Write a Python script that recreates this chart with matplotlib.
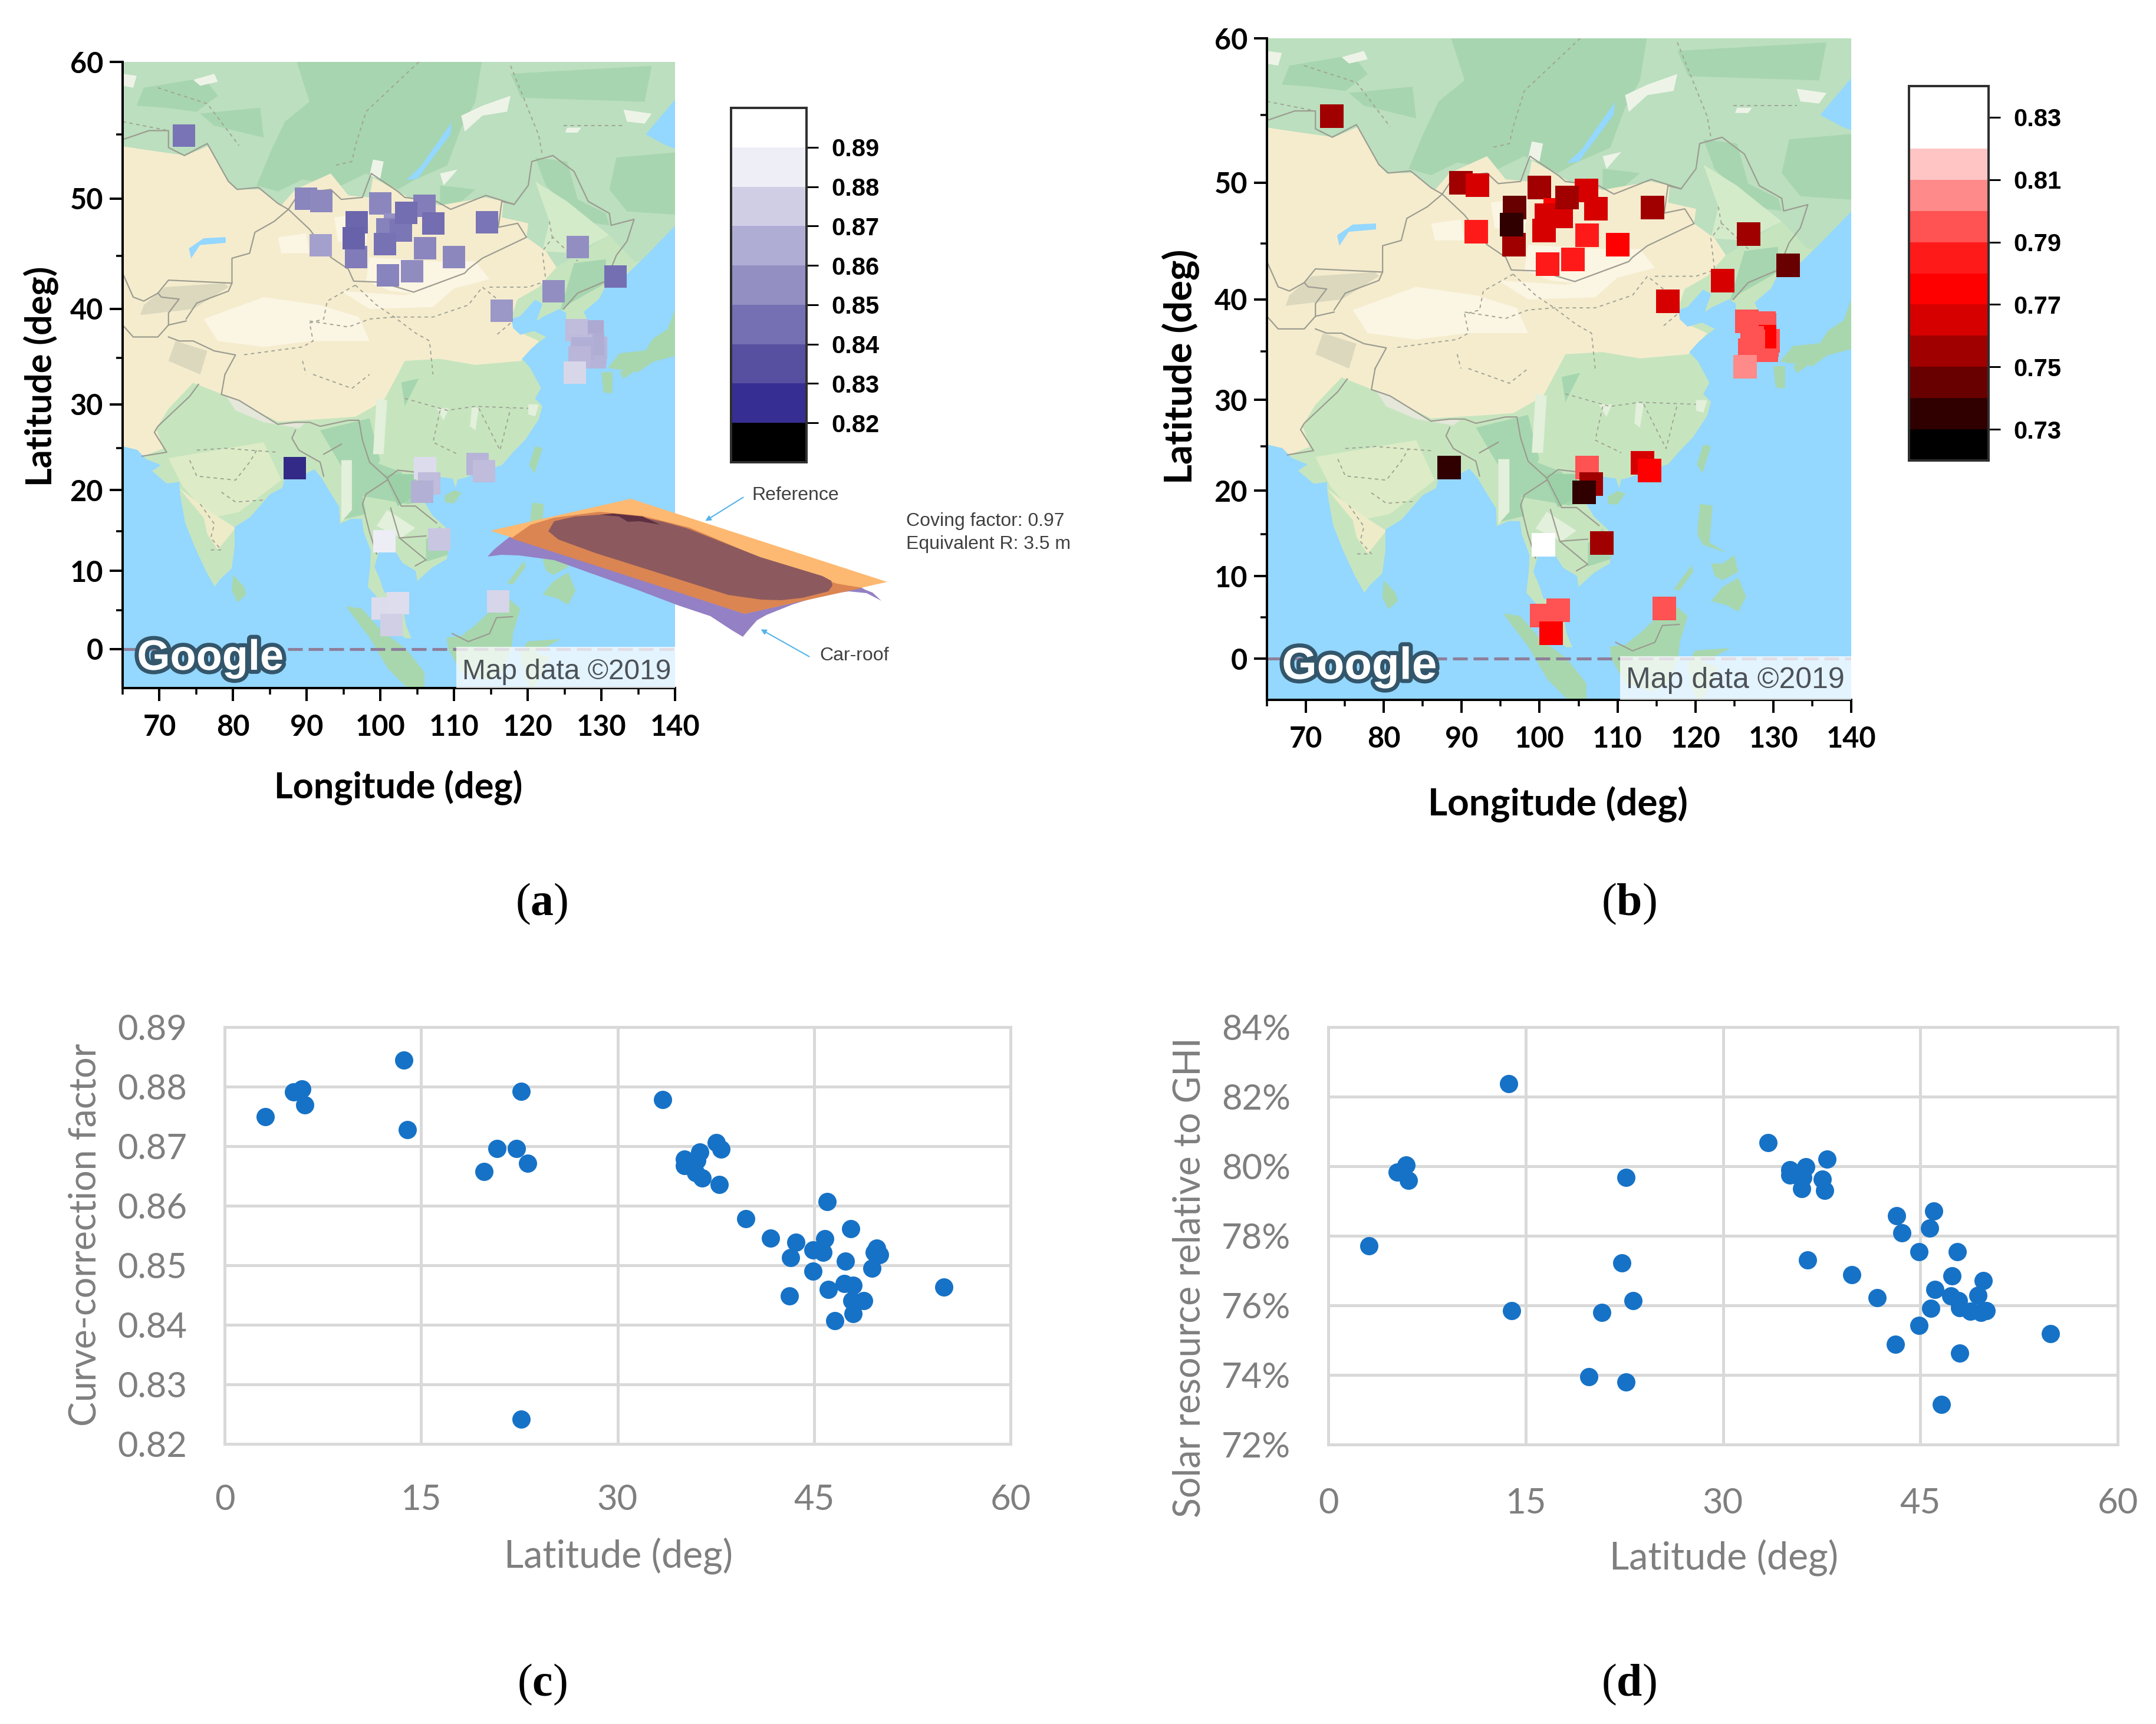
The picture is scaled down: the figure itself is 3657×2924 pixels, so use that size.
import numpy as np
import matplotlib
matplotlib.use("Agg")
import matplotlib.pyplot as plt
import matplotlib.patheffects as pe
from matplotlib.colors import ListedColormap, BoundaryNorm, LinearSegmentedColormap
from matplotlib.cm import ScalarMappable

W, H = 3657, 2924
DPI = 100
PT = 72 / DPI  # pixels to points

plt.rcParams['mathtext.fontset'] = 'custom'
plt.rcParams['mathtext.bf'] = 'Liberation Serif:bold'
plt.rcParams['mathtext.rm'] = 'Liberation Serif'

# stations, in drawing order
station_lon = [73.3, 89.9, 92.0, 100.0, 102.0, 100.9, 102.8, 100.6, 106.0, 103.5, 107.2, 114.5, 106.1, 91.9, 110.0,
               96.8, 96.7, 96.4, 126.8, 104.3, 101.0, 131.9, 123.5, 116.5,
               128.9, 128.8, 129.3, 129.2, 129.1, 128.9, 126.6, 127.3, 127.4, 127.0, 126.4,
               106.1, 106.6, 105.7, 113.2, 114.1, 88.4, 100.5, 108.0, 100.3, 102.4, 101.5, 116.0]
station_lat = [54.9, 50.0, 49.8, 49.6, 47.8, 47.4, 47.3, 46.1, 49.4, 48.8, 47.9, 48.0, 45.7, 46.0, 44.9,
               48.0, 44.9, 46.6, 45.8, 43.6, 43.2, 43.1, 41.7, 39.8,
               37.55, 37.75, 36.05, 35.6, 35.1, 36.45, 37.9, 36.3, 35.98, 35.1, 33.45,
               22.65, 20.8, 19.8, 23.15, 22.3, 22.65, 13.7, 13.95, 5.25, 5.9, 3.1, 6.1]
station_cf = [.8463, .8518, .8529, .8522, .8561, .8507, .8469, .8459, .8495, .8441, .8441, .8466, .8522, .8607, .8526,
              .8419, .8490, .8407, .8545, .8539, .8513, .8449, .8546, .8578,
              .8706, .8636, .8676, .8673, .8667, .8647, .8695, .8690, .8655, .8678, .8778,
              .8792, .8696, .8657, .8671, .8696, .8242, .8845, .8728, .8791, .8796, .8750, .8769]
station_ghi = [75.19, 75.84, 76.72, 75.80, 77.55, 76.85, 76.27, 76.45, 76.29, 75.83, 76.13, 75.93, 78.22, 78.72, 77.55,
               74.63, 75.43, 73.16, 75.91, 78.09, 78.58, 74.88, 76.22, 76.88,
               79.63, 79.31, 79.67, 79.74, 79.74, 77.30, 80.20, 79.98, 79.36, 79.90, 80.67,
               79.67, 75.80, 73.95, 76.13, 77.22, 73.79, 82.38, 75.84, 79.83, 80.03, 77.71, 79.60]

lon_ticks = [70, 80, 90, 100, 110, 120, 130, 140]
lon_minor = [65, 75, 85, 95, 105, 115, 125, 135]
lat_ticks = [0, 10, 20, 30, 40, 50, 60]
lat_minor = [5, 15, 25, 35, 45, 55]

# colour bars
bins_a = [.81, .82, .83, .84, .85, .86, .87, .88, .89, .90]
colors_a = ['#000000', '#372E93', '#574FA0', '#7570B3', '#938FC2', '#B0ADD5', '#D0CEE5', '#EEEEF7', '#FFFFFF']
ticks_a = [.82, .83, .84, .85, .86, .87, .88, .89]
bins_b = [.72, .73, .74, .75, .76, .77, .78, .79, .80, .81, .82, .84]
marker_bins_b = [.72, .73, .74, .75, .76, .77, .78, .79, .803, .81, .82, .84]
colors_b = ['#000000', '#300000', '#680000', '#A00000', '#D60000', '#FF0000', '#FF1A1A', '#FF5252', '#FF8A8A', '#FFC4C4', '#FFFFFF']
ticks_b = [.73, .75, .77, .79, .81, .83]

# coastline, lon/lat
mainland = [(60, 72), (145, 72), (145, 57.5), (140, 57.5), (136, 55), (138.7, 54.2), (141, 53.7), (141, 48.5),
            (140, 47.7), (136, 45), (133, 43), (132, 43.2), (130.7, 42.4), (129.7, 41), (127.6, 39.7), (128.4, 38.4),
            (129.4, 37), (129.4, 35.5), (128, 34.8), (126.5, 34.4), (126.5, 36), (126.7, 37), (125.2, 37.9), (125.2, 39.6),
            (124.3, 40), (122, 39.2), (121.2, 38.8), (122, 40.5), (121, 40.9), (119, 39.3), (117.8, 39), (118, 38.1),
            (119, 37.4), (120.8, 37.8), (122.5, 37.2), (120.5, 36), (119.2, 34.9), (120.3, 34), (121.8, 31.8), (121, 30.6),
            (122, 29.8), (121.5, 28.3), (119.7, 26), (118, 24.5), (116.5, 23), (114, 22.3), (111.5, 21.5), (110.5, 21.3),
            (110.2, 20.3), (109.8, 21.4), (108, 21.6), (106.7, 20.7), (105.7, 19), (107, 17), (108.8, 15.5), (109.3, 13),
            (109, 11.5), (107, 10.4), (105, 8.7), (104.8, 10), (103, 11), (102, 12.5), (100.9, 12.7), (100.5, 13.5),
            (99.9, 12.8), (99.2, 10.5), (99.9, 9), (100.5, 7.3), (101.7, 6.8), (103, 5.5), (103.5, 3), (104.2, 1.4),
            (103.4, 1.4), (101.3, 2.9), (100.4, 5), (99.7, 6.5), (98.3, 8), (98.6, 10.5), (98.7, 12.5), (97.7, 15),
            (97.5, 16.5), (96, 16.5), (94.5, 15.9), (94.4, 18), (93, 20), (92, 21.5), (91, 22.5), (89.5, 21.8), (87, 21.5),
            (86.7, 20.3), (85, 19.5), (82.3, 16.7), (80.2, 15.5), (80.2, 13), (79.8, 10.3), (78.2, 8.9), (77.5, 8), (76.3, 10),
            (74.8, 13), (73.5, 16), (72.8, 19.5), (72.7, 21), (71, 20.8), (69, 22.3), (70.2, 23), (68.2, 23.7), (67, 24.8),
            (65, 25.2), (60, 25)]
islands = [
    [(130.9, 34), (132.5, 35.5), (136, 35.8), (137, 37), (139, 38), (140, 40), (142, 40), (142, 35), (140, 35.2), (137, 34.6), (135, 33.5), (132, 33.8)],
    [(130, 33.5), (131.5, 33.5), (131.5, 31.2), (130.3, 31.3)],
    [(132.5, 33.5), (134.5, 34.2), (134.2, 33.4), (133, 32.8)],
    [(120.2, 23), (121, 25.2), (122, 25), (120.9, 22)],
    [(108.7, 19.3), (110, 20), (111, 19.7), (110, 18.4), (108.8, 18.5)],
    [(80, 9.5), (81.5, 8), (81.8, 7), (80.6, 6), (79.8, 7.5)],
    [(95.3, 5.5), (97.5, 5.2), (100, 2.5), (103.5, 0), (106, -3), (106, -5.9), (104.5, -5.8), (101, -2.5), (98.5, 1.5)],
    [(109, 1.5), (111, 1.7), (113, 3.2), (115, 5), (116.7, 7), (119, 5.2), (118, 2), (117.8, 0), (116.5, -3), (114.5, -4), (111, -3), (109.2, 0)],
    [(120.3, 16), (120.6, 18.5), (122.2, 18.3), (122, 16), (121.8, 14), (124, 12.8), (121, 13.7), (120.3, 14.8)],
    [(122, 7), (123.5, 8.7), (125.5, 9.8), (126.5, 7.5), (125.5, 5.7), (124, 6.5)],
    [(122, 11.5), (123.5, 11.5), (125, 12.5), (125.5, 10.5), (123.5, 9.5), (122.5, 10)],
    [(117.2, 8.4), (119.5, 11.3), (119.7, 10.5), (118, 8.3)],
    [(119.5, -3.5), (119, -0.5), (120, 1), (124.5, 1.3), (121, -0.5), (123, -1), (121.5, -4), (120.5, -5.5)],
]

# land colours, as pixel positions in the panel (b) crop:
# "top" shapes start at the top of the map, "low" shapes at picture row 625
top_north = [(-50, -50), (1700, -50), (1700, 1000), (1450, 1000), (1380, 870), (1230, 1030), (1200, 950), (1145, 880), (1150, 810), (1075, 780), (1080, 700), (1030, 680), (900, 720), (810, 680),
             (780, 650), (710, 580), (700, 680), (640, 670), (590, 560), (490, 640), (450, 720), (390, 640), (320, 640), (300, 600), (245, 420), (180, 470), (60, 440), (-50, 410)]
top_forest = [[(490, -20), (1020, -20), (1000, 200), (960, 330), (920, 520), (830, 590), (780, 640), (690, 560), (620, 620), (510, 590), (440, 650), (380, 620), (420, 450), (460, 300), (530, 200)],
              [(60, 130), (230, 80), (270, 170), (210, 250), (120, 230), (40, 220)], [(220, 260), (390, 230), (400, 380), (260, 320)],
              [(1100, 60), (1500, 20), (1480, 200), (1300, 190), (1130, 180)], [(1170, 480), (1260, 500), (1290, 690), (1370, 760), (1380, 820), (1300, 800), (1200, 620)],
              [(1400, 480), (1600, 450), (1600, 770), (1430, 750), (1380, 640)], [(1280, 1010), (1370, 990), (1370, 1110), (1270, 1210), (1240, 1250), (1260, 1130)],
              [(900, 620), (1000, 640), (960, 700), (900, 720)]]
top_plain = [(1170, 600), (1260, 700), (1330, 800), (1380, 870), (1280, 960), (1190, 950), (1210, 800)]
top_snow = [[(960, 270), (1020, 220), (1100, 170), (1090, 250), (1020, 270), (970, 350)], [(1420, 240), (1500, 260), (1480, 310), (1430, 300)], [(0, 60), (40, 70), (30, 130), (0, 120)],
            [(200, 90), (260, 60), (270, 100), (220, 120)], [(1260, 330), (1300, 330), (1290, 355), (1255, 355)], [(900, 560), (950, 540), (910, 620)], [(710, 490), (740, 500), (730, 590), (700, 570)]]
top_cream = [(-50, 410), (60, 440), (180, 470), (245, 420), (300, 600), (320, 640), (390, 640), (450, 720), (490, 640), (590, 560), (640, 670), (700, 680), (710, 580), (780, 650), (810, 680),
             (900, 720), (1030, 680), (1080, 700), (1075, 780), (1150, 810), (1145, 880), (1200, 950), (1230, 1030), (1180, 1130), (1120, 1190), (1100, 1290), (1130, 1360), (1180, 1400), (1130, 1500),
             (1000, 1520), (900, 1490), (800, 1500), (780, 1568), (740, 1700), (660, 1780), (580, 1790), (440, 1805), (300, 1680), (200, 1610), (130, 1740), (95, 1840), (115, 1940), (55, 1980), (0, 1925), (-50, 1925)]
top_pale = [[(230, 1290), (400, 1180), (560, 1220), (670, 1280), (700, 1400), (540, 1400), (400, 1430), (270, 1400)],
            [(700, 980), (880, 1000), (1000, 1000), (1040, 1090), (870, 1170), (760, 1150), (690, 1100)],
            [(440, 880), (520, 860), (530, 960), (450, 960)], [(600, 780), (700, 760), (690, 930), (610, 900)], [(620, 1150), (800, 1170), (950, 1120), (880, 1230), (700, 1240)]]
top_tan = [[(50, 1270), (200, 1240), (300, 1130), (290, 1110), (120, 1130), (60, 1220)], [(150, 1400), (240, 1450), (220, 1568), (130, 1500)]]
low_india = [(130, 420), (400, 340), (450, 530), (330, 690), (250, 720), (170, 560)]
low_south_india = [(160, 570), (230, 720), (240, 800), (270, 880), (320, 770), (250, 690)]
low_forest = [[(560, 280), (700, 220), (730, 430), (680, 600), (690, 700), (620, 730), (620, 460)], [(700, 430), (790, 490), (840, 640), (810, 650), (680, 610)], [(790, 40), (840, 20), (800, 160)],
              [(860, 830), (900, 760), (930, 900), (860, 940)]]
low_laos = [(740, 500), (830, 500), (840, 600), (780, 660)]
low_pale = [[(720, 120), (750, 130), (740, 400), (710, 400)], [(620, 430), (650, 430), (650, 680), (620, 740)], [(750, 680), (830, 770), (790, 820), (720, 760)],
            [(990, 160), (1010, 170), (1000, 280), (985, 260)], [(1150, 150), (1180, 150), (1170, 210), (1150, 200)], [(890, 170), (925, 170), (910, 230)]]
low_strip = [(290, 100), (330, 130), (440, 250), (520, 240), (500, 270), (400, 240), (320, 180)]

top_borders = [[(-50, 420), (75, 345), (130, 345), (130, 430), (175, 470), (240, 410), (300, 600), (325, 640), (385, 630), (440, 710), (470, 740)],
               [(470, 740), (500, 660), (590, 640), (620, 690), (680, 680), (705, 560), (780, 650), (800, 680), (890, 700), (930, 740), (1030, 670), (1110, 715), (1075, 700), (1065, 830), (1120, 810), (1145, 880),
                (1020, 985), (980, 1040), (970, 1060), (825, 1155), (730, 1105), (655, 1100), (640, 1040), (590, 980), (530, 840), (470, 740)],
               [(1110, 715), (1150, 620), (1160, 500), (1220, 470), (1280, 550), (1320, 700), (1380, 760), (1385, 820), (1450, 790), (1430, 900), (1400, 970), (1370, 1100), (1290, 1160), (1250, 1240)],
               [(470, 740), (430, 800), (375, 855), (360, 960), (310, 985), (310, 1110), (130, 1095), (100, 1160), (110, 1180), (160, 1190), (130, 1260), (130, 1320), (180, 1300)],
               [(0, 1060), (30, 1180), (60, 1200), (100, 1160)], [(310, 1110), (300, 1150), (210, 1210), (180, 1290)], [(0, 1320), (30, 1380), (100, 1380), (130, 1320)],
               [(130, 1380), (160, 1400), (200, 1400), (260, 1450), (320, 1470), (290, 1568)]]
low_borders = [[(290, 0), (280, 100), (330, 130), (440, 250), (490, 240), (530, 240), (560, 260), (640, 230), (670, 230), (680, 330), (700, 440), (750, 520), (780, 480), (830, 490), (890, 530)],
               [(215, 50), (190, 110), (100, 260), (90, 290), (125, 390), (55, 410)], [(490, 280), (480, 320), (500, 380), (560, 440), (570, 510)], [(570, 400), (620, 350)],
               [(750, 530), (690, 600), (680, 650), (700, 790), (720, 900)], [(750, 520), (790, 660), (830, 660), (890, 745)], [(760, 670), (785, 820), (860, 930), (830, 960)], [(785, 820), (860, 810)],
               [(935, 1300), (980, 1340), (1040, 1300), (1060, 1220), (1105, 1215)]]
top_dashes = [[(840, 0), (780, 100), (690, 250), (660, 420), (650, 500), (600, 520)], [(1100, 20), (1180, 370), (1190, 470)], [(100, 130), (240, 210), (330, 420)], [(0, 300), (130, 345)],
              [(660, 1120), (580, 1200), (570, 1290), (530, 1310), (540, 1400), (510, 1430), (340, 1470)], [(660, 1120), (720, 1220), (770, 1280), (830, 1360), (870, 1400), (880, 1568)],
              [(530, 1300), (640, 1330), (700, 1290), (770, 1280), (880, 1280), (980, 1220), (1020, 1130), (1090, 1230), (1100, 1310), (1060, 1370)],
              [(1040, 1130), (1150, 1130), (1200, 1100), (1190, 950), (1220, 880), (1290, 1000)], [(1210, 800), (1220, 900)], [(1250, 320), (1420, 320)], [(510, 1500), (520, 1568)]]
low_dashes = [[(800, 120), (920, 180), (1000, 160), (1150, 170)], [(900, 180), (880, 340), (950, 400)], [(1010, 170), (1070, 380), (1100, 170)], [(210, 380), (290, 370), (360, 380), (440, 390)],
              [(190, 430), (210, 510), (320, 530), (360, 440), (380, 380)], [(280, 590), (320, 640), (400, 630)], [(220, 650), (260, 750), (250, 820), (280, 880), (240, 880)], [(540, 0), (650, 70), (700, 0)]]
lakes = [[(103.5, 51.5), (105, 51.6), (109.5, 55), (109.7, 55.9), (108.5, 55), (105.5, 52.6)],
         [(74, 45.7), (76, 46.6), (79, 46.7), (79, 46.2), (75.5, 46), (74.3, 44.8)]]
equator_lon = [65, 140]
equator_lat = [0, 0]

# roof sketch in panel (a), picture pixels
roof_purple = [(827, 944), (838, 932), (855, 918), (868, 908), (1400, 960), (1467, 1000), (1480, 1005), (1495, 1019), (1470, 1006), (1440, 1003),
               (1400, 1008), (1345, 1025), (1300, 1043), (1284, 1052), (1270, 1068), (1260, 1080), (1240, 1068), (1205, 1045), (1151, 1027),
               (1080, 1000), (1010, 975), (940, 950), (880, 942), (850, 941)]
roof_orange = [(832, 900), (1070, 846), (1505, 987), (1263, 1041)]
roof_overlap = [(867, 913), (900, 890), (940, 878), (1017, 868), (1090, 875), (1170, 895), (1300, 950), (1420, 990), (1463, 997), (1263, 1041)]
roof_brown = [(930, 901), (940, 884), (975, 876), (1017, 873), (1081, 876), (1125, 885), (1165, 896), (1290, 945), (1395, 977), (1410, 985), (1412, 993),
              (1405, 1003), (1361, 1014), (1325, 1018), (1291, 1017), (1235, 1009), (1010, 938), (947, 915)]
roof_dark = [(1017, 873), (1040, 871), (1090, 876), (1120, 890), (1085, 884), (1065, 885), (1050, 876)]


def merc(lat):
    lat = np.clip(lat, -85, 85)
    return np.degrees(np.log(np.tan(np.radians(45 + lat / 2))))


def merc_inv(y):
    return 2 * np.degrees(np.arctan(np.exp(np.radians(y)))) - 90


def crop_lonlat(pts, row0):
    # crop position of the reference panel (b) to lon/lat
    pts = np.array(pts, dtype=float)
    lon = 65 + pts[:, 0] / 1.582 / 13.2
    lat = merc_inv((1117 - (row0 + pts[:, 1] / 2.8)) / 13.94)
    return np.column_stack([lon, lat])


def top(pts):
    return crop_lonlat(pts, 65)


def low(pts):
    return crop_lonlat(pts, 625)


def axes_px(left, top_px, right, bottom):
    return fig.add_axes([left / W, 1 - bottom / H, (right - left) / W, (bottom - top_px) / H])


def poly(ax, pts, color, z=1, clip=None):
    pts = np.array(pts)
    art = ax.fill(pts[:, 0], pts[:, 1], color=color, lw=0, zorder=z)[0]
    if clip is not None:
        art.set_clip_path(clip)
    return art


def draw_map(ax, c_values, cmap, norm, side):
    ax.set_facecolor('#94D7FF')
    land = poly(ax, mainland, '#C6E5BF')
    for p in islands:
        poly(ax, p, '#A8D7AE')
    poly(ax, top(top_north), '#BBDFBF', 1.1, land)
    for p in top_forest:
        poly(ax, top(p), '#A7D5AF', 1.2, land)
    poly(ax, top(top_plain), '#D4EBC9', 1.25, land)
    for p in top_snow:
        poly(ax, top(p), '#EEF3E8', 1.3, land)
    poly(ax, top(top_cream), '#F5ECCE', 1.5, land)
    for p in top_pale:
        poly(ax, top(p), '#FBF5E3', 1.6, land)
    for p in top_tan:
        poly(ax, top(p), '#DCD8BE', 1.7, land)
    poly(ax, low(low_india), '#DDECC6', 1.6, land)
    poly(ax, low(low_south_india), '#EEEBC9', 1.65, land)
    for p in low_forest:
        poly(ax, low(p), '#A6D6AF', 1.7, land)
    poly(ax, low(low_laos), '#9CD1A8', 1.75, land)
    for p in low_pale:
        poly(ax, low(p), '#E3F0DB', 1.75, land)
    poly(ax, low(low_strip), '#E4E7DA', 1.8, land)
    for p in lakes:
        poly(ax, p, '#94D7FF', 1.9)
    for p in [top(q) for q in top_borders] + [low(q) for q in low_borders]:
        ax.plot(p[:, 0], p[:, 1], color='#9C9C90', lw=1.6, zorder=2)
    for p in [top(q) for q in top_dashes] + [low(q) for q in low_dashes]:
        ax.plot(p[:, 0], p[:, 1], color='#A2A496', lw=1.4, ls=(0, (3, 3)), zorder=2)

    ax.plot(equator_lon, equator_lat, color='#8E7F9A', lw=5 * PT, ls=(0, (5, 2)), zorder=2.5)
    ax.axhspan(-5, 0.32, xmin=(110.3 - 65) / 75, color='white', alpha=0.75, lw=0, zorder=3)
    ax.scatter(station_lon, station_lat, c=c_values, cmap=cmap, norm=norm, marker='s', s=(side * PT) ** 2, linewidths=0, zorder=4)

    ax.set_xlim(65, 140)
    ax.set_yscale('function', functions=(merc, merc_inv))
    ax.set_ylim(-5, 60)
    ax.set_xticks(lon_ticks)
    ax.set_xticks(lon_minor, minor=True)
    ax.set_yticks(lat_ticks)
    ax.set_yticks(lat_minor, minor=True)
    ax.set_yticklabels([str(v) for v in lat_ticks])
    ax.tick_params(which='major', length=22 * PT, width=4 * PT, labelsize=35)
    ax.tick_params(which='minor', length=11 * PT, width=3.5 * PT, labelleft=False, labelbottom=False)
    ax.tick_params(axis='x', which='major', pad=22 * PT)
    ax.tick_params(axis='y', which='major', pad=11 * PT)
    for t in ax.get_xticklabels() + ax.get_yticklabels():
        t.set_family('Lato')
        t.set_fontweight('bold')
    ax.spines['top'].set_visible(False)
    ax.spines['right'].set_visible(False)
    ax.spines['left'].set_linewidth(4 * PT)
    ax.spines['bottom'].set_linewidth(4 * PT)


def draw_colorbar(left, top_px, right, bottom, bins, colors, ticks):
    cax = axes_px(left, top_px, right, bottom)
    sm = ScalarMappable(norm=BoundaryNorm(bins, len(colors)), cmap=ListedColormap(colors))
    cb = fig.colorbar(sm, cax=cax, ticks=ticks, spacing='proportional')
    cb.ax.set_yticklabels(['%.2f' % v for v in ticks], family='Liberation Sans', fontweight='bold', fontsize=30)
    cb.ax.minorticks_off()
    cb.ax.tick_params(length=20 * PT, width=3 * PT, pad=22 * PT)
    cb.outline.set_linewidth(4 * PT)
    cb.outline.set_edgecolor('#303030')


def draw_scatter(ax, yvalues, ylim, yticks, ylabels, xpad):
    ax.scatter(station_lat, yvalues, s=(31 * PT) ** 2, color='#1672C6', linewidths=0, zorder=3)
    ax.set_xlim(0, 60)
    ax.set_ylim(*ylim)
    ax.set_xticks([0, 15, 30, 45, 60])
    ax.set_yticks(yticks)
    ax.set_yticklabels(ylabels)
    ax.grid(color='#D9D9D9', lw=5 * PT, zorder=0)
    ax.set_axisbelow(True)
    for s in ax.spines.values():
        s.set_color('#D9D9D9')
        s.set_linewidth(5 * PT)
    ax.tick_params(length=0, labelsize=43, labelcolor='#7F7F7F', pad=64 * PT)
    ax.tick_params(axis='x', pad=xpad * PT)
    for t in ax.get_xticklabels() + ax.get_yticklabels():
        t.set_family('Lato')


fig = plt.figure(figsize=(W / DPI, H / DPI), dpi=DPI, facecolor='white')

# panel (a)
ax_a = axes_px(208, 105, 1145, 1167)
cmap_a = LinearSegmentedColormap.from_list('purples_a', colors_a)
draw_map(ax_a, station_cf, cmap_a, plt.Normalize(.815, .895), 38)
draw_colorbar(1240, 183, 1368, 784, bins_a, colors_a, ticks_a)

# panel (b)
ax_b = axes_px(2149, 65, 3140, 1187)
draw_map(ax_b, np.array(station_ghi) / 100, ListedColormap(colors_b), BoundaryNorm(marker_bins_b, len(colors_b)), 40)
draw_colorbar(3238, 146, 3373, 781, bins_b, colors_b, ticks_b)

# panel (c), (d)
ax_c = axes_px(381, 1742, 1714, 2449)
draw_scatter(ax_c, station_cf, (.82, .89), [.82, .83, .84, .85, .86, .87, .88, .89],
             ['0.82', '0.83', '0.84', '0.85', '0.86', '0.87', '0.88', '0.89'], 68)
ax_d = axes_px(2253, 1742, 3592, 2450)
draw_scatter(ax_d, station_ghi, (72, 84), [72, 74, 76, 78, 80, 82, 84],
             ['72%', '74%', '76%', '78%', '80%', '82%', '84%'], 73)

# overlay in picture pixels for the loose text and the roof sketch
over = fig.add_axes([0, 0, 1, 1], zorder=5)
over.set_xlim(0, W)
over.set_ylim(H, 0)
over.axis('off')

poly(over, roof_purple, '#9480C4', 1)
poly(over, roof_orange, '#FDB971', 2)
poly(over, roof_overlap, '#DB8552', 3)
poly(over, roof_brown, '#8C5A5E', 4)
poly(over, roof_dark, '#5E3042', 5)
over.annotate('', xy=(1194, 885), xytext=(1263, 842), arrowprops=dict(arrowstyle='-|>', color='#55B4EA', lw=1.5, mutation_scale=13))
over.annotate('', xy=(1288, 1066), xytext=(1375, 1115), arrowprops=dict(arrowstyle='-|>', color='#55B4EA', lw=1.5, mutation_scale=13))
for txt, x, y in [('Reference', 1349, 840), ('Car-roof', 1449, 1112)]:
    over.text(x, y, txt, family='Liberation Sans', fontsize=23, color='#404040', ha='center', va='center')
over.text(1537, 884, 'Coving factor: 0.97', family='Liberation Sans', fontsize=23, color='#404040', va='center')
over.text(1537, 923, 'Equivalent R: 3.5 m', family='Liberation Sans', fontsize=23, color='#404040', va='center')

# map furniture
for x, y, size, gx, gy, gs in [(961, 1140, 34.5, 357, 1117, 52), (2943, 1154, 36, 2306, 1132, 55)]:
    over.text(x, y, 'Map data ©2019', family='Liberation Sans', fontsize=size, color='#4D5258', ha='center', va='center')
    over.text(gx, gy, 'Google', family='Liberation Sans', fontweight='bold', fontsize=gs, color='white', ha='center', va='center',
              path_effects=[pe.withStroke(linewidth=10, foreground='#33566B')])

# axis titles
bold = dict(family='Lato', fontweight='bold', color='black', ha='center', va='center')
over.text(70, 638, 'Latitude (deg)', rotation=90, fontsize=44, **bold)
over.text(676, 1336, 'Longitude (deg)', fontsize=44, **bold)
over.text(2003, 622, 'Latitude (deg)', rotation=90, fontsize=47, **bold)
over.text(2642, 1364, 'Longitude (deg)', fontsize=46, **bold)

gray = dict(family='Lato', color='#7F7F7F', ha='center', va='center')
over.text(1049, 2639, 'Latitude (deg)', fontsize=46.5, **gray)
over.text(2924, 2642, 'Latitude (deg)', fontsize=46.5, **gray)
over.text(145, 2094, 'Curve-correction factor', rotation=90, fontsize=45, **gray)
over.text(2017, 2167, 'Solar resource relative to GHI', rotation=90, fontsize=45, **gray)

# panel letters
for letter, x, y in [('a', 919, 1533), ('b', 2763, 1533), ('c', 919, 2857), ('d', 2763, 2857)]:
    over.text(x, y, '($\\mathbf{%s}$)' % letter, family='Liberation Serif', fontsize=56, color='black', ha='center', va='center')

fig.savefig('out.png', dpi=DPI)
